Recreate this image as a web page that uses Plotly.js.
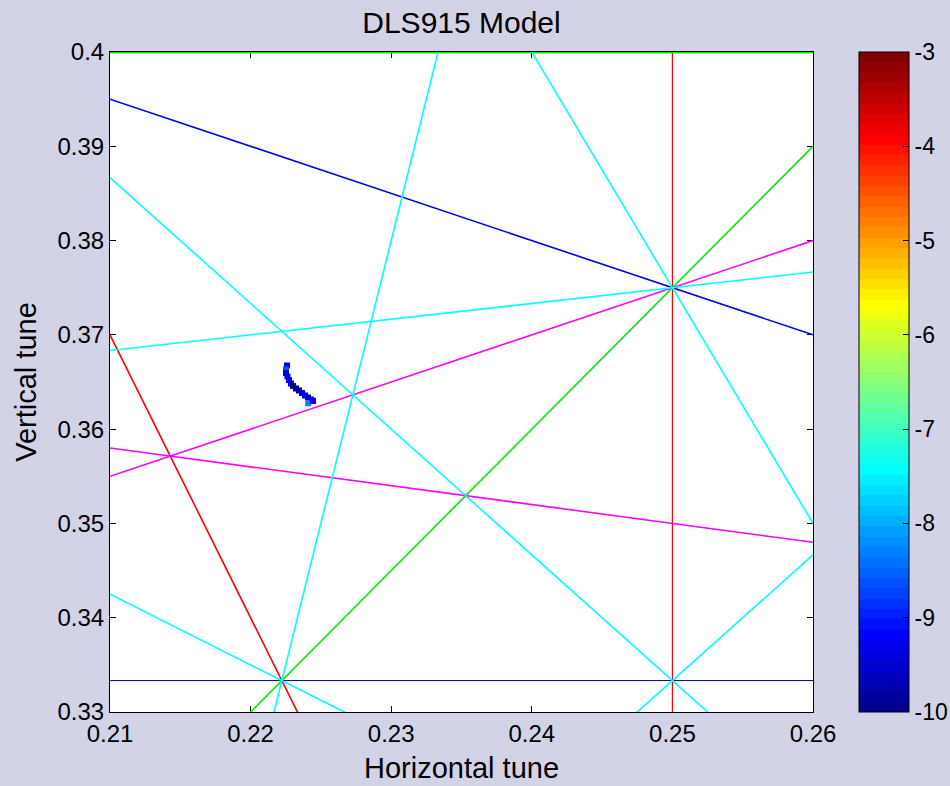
<!DOCTYPE html>
<html>
<head>
<meta charset="utf-8">
<script src="https://cdn.plot.ly/plotly-3.0.1.min.js"></script>
<style>
  html, body { margin: 0; padding: 0; background: #d3d3e7; }
  #plot { width: 950px; height: 786px; }
</style>
</head>
<body>
<div id="plot"></div>
<script>
// Tune footprint (horizontal / vertical tune) and its diffusion index
const tuneX = [0.22259, 0.22252, 0.22252, 0.22262, 0.22273, 0.22287, 0.22302, 0.22323,
               0.22344, 0.22366, 0.22387, 0.22408, 0.22430, 0.22410, 0.22444];
const tuneY = [0.36675, 0.36633, 0.36595, 0.36558, 0.36521, 0.36484, 0.36458, 0.36431,
               0.36410, 0.36383, 0.36357, 0.36336, 0.36314, 0.36274, 0.36299];
const diffusion = [-9.3, -8.6, -9.6, -9.2, -9.4, -9.5, -9.8, -9.9,
                   -9.7, -9.5, -9.3, -9.6, -9.4, -8.3, -9.2];

// Resonance lines m*Qx + n*Qy = p
const resM = [1, 0, 3, 4, 3, 0, 1, 2, 6, 3, 4, 5, 1, 4];
const resN = [2, 3, 1, 0, -2, 5, 5, -4, -1, 4, 3, 2, -6, -3];
const resP = [1, 1, 1, 1, 0, 2, 2, -1, 1, 2, 2, 2, -2, 0];

const xRange = [0.21, 0.26];
const yRange = [0.33, 0.4];
const colorTicks = [-10, -9, -8, -7, -6, -5, -4, -3];

// colour per resonance order
const orderColor = {3: '#0000ee', 4: '#ff0000', 5: '#00ee00', 6: '#ff00ff', 7: '#00ffff'};

// MATLAB-style 64-level jet colormap
function jetMap(m) {
  const n = Math.ceil(m / 4);
  const u = [];
  for (let i = 1; i <= n; i++) u.push(i / n);
  for (let i = 1; i < n; i++) u.push(1);
  for (let i = n; i >= 1; i--) u.push(i / n);
  const g0 = Math.ceil(n / 2) - (m % 4 === 1 ? 1 : 0);
  const J = [];
  for (let i = 0; i < m; i++) J.push([0, 0, 0]);
  for (let k = 0; k < u.length; k++) {
    const g = g0 + k + 1, r = g + n, b = g - n;
    if (r >= 1 && r <= m) J[r - 1][0] = u[k];
    if (g >= 1 && g <= m) J[g - 1][1] = u[k];
    if (b >= 1 && b <= m) J[b - 1][2] = u[k];
  }
  return J;
}
const jet = jetMap(64);
const colorscale = [];
jet.forEach((c, i) => {
  const col = 'rgb(' + c.map(v => Math.round(v * 255)).join(',') + ')';
  colorscale.push([i / 64, col]);
  colorscale.push([(i + 1) / 64, col]);
});

const traces = [];
for (let i = 0; i < resM.length; i++) {
  const m = resM[i], n = resN[i], p = resP[i];
  const order = Math.abs(m) + Math.abs(n);
  let xs, ys;
  if (n === 0) {
    xs = [p / m, p / m];
    ys = yRange.slice();
  } else {
    xs = xRange.slice();
    ys = xs.map(x => (p - m * x) / n);
  }
  const straight = (m === 0 || n === 0);
  let color = orderColor[order];
  let width = straight ? 1.2 : 1.6;
  if (m === 0 && n === 3) { color = '#00008b'; width = 1; }
  if (m === 0 && n === 5) { width = 3; }
  traces.push({
    x: xs, y: ys, mode: 'lines', type: 'scatter',
    line: {color: color, width: width},
    hoverinfo: 'skip', showlegend: false
  });
}

traces.push({
  x: tuneX, y: tuneY, mode: 'markers', type: 'scatter', showlegend: false,
  marker: {
    symbol: 'square', size: 6, color: diffusion,
    colorscale: colorscale, cmin: -10, cmax: -3, showscale: true,
    colorbar: {
      x: 1.0654, xanchor: 'left', xref: 'paper',
      y: 0, yanchor: 'bottom', len: 1, lenmode: 'fraction',
      thickness: 50, thicknessmode: 'pixels',
      outlinecolor: '#000', outlinewidth: 1,
      tickvals: colorTicks, ticktext: colorTicks.map(String),
      ticks: 'inside', ticklen: 6, tickcolor: '#000',
      tickfont: {family: 'Liberation Sans, Arial, sans-serif', size: 23, color: '#000'},
      xpad: 0, ypad: 0
    }
  }
});

const font = 'Liberation Sans, Arial, sans-serif';
const layout = {
  width: 950, height: 786,
  paper_bgcolor: '#d3d3e7', plot_bgcolor: '#ffffff',
  margin: {l: 110, r: 137, t: 52, b: 74, autoexpand: false},
  title: {
    text: 'DLS915 Model', font: {family: font, size: 30, color: '#000'},
    x: 0.5, xref: 'paper', y: 1 - 22 / 786, yref: 'container', yanchor: 'middle'
  },
  xaxis: {
    range: xRange, tickvals: [0.21, 0.22, 0.23, 0.24, 0.25, 0.26],
    ticktext: ['0.21', '0.22', '0.23', '0.24', '0.25', '0.26'],
    ticks: 'inside', ticklen: 6, tickcolor: '#000', showgrid: false, zeroline: false,
    showline: true, linecolor: '#000', linewidth: 1, mirror: 'ticks', layer: 'below traces',
    tickfont: {family: font, size: 24, color: '#000'},
    title: {text: 'Horizontal tune', font: {family: font, size: 29, color: '#000'}, standoff: 11},
    automargin: false
  },
  yaxis: {
    range: yRange, tickvals: [0.33, 0.34, 0.35, 0.36, 0.37, 0.38, 0.39, 0.4],
    ticktext: ['0.33', '0.34', '0.35', '0.36', '0.37', '0.38', '0.39', '0.4'],
    ticks: 'inside', ticklen: 6, tickcolor: '#000', showgrid: false, zeroline: false,
    showline: true, linecolor: '#000', linewidth: 1, mirror: 'ticks', layer: 'below traces',
    tickfont: {family: font, size: 24, color: '#000'},
    title: {text: 'Vertical tune', font: {family: font, size: 29, color: '#000'}, standoff: 12},
    automargin: false
  }
};

Plotly.newPlot('plot', traces, layout, {displayModeBar: false, staticPlot: true});
</script>
</body>
</html>
